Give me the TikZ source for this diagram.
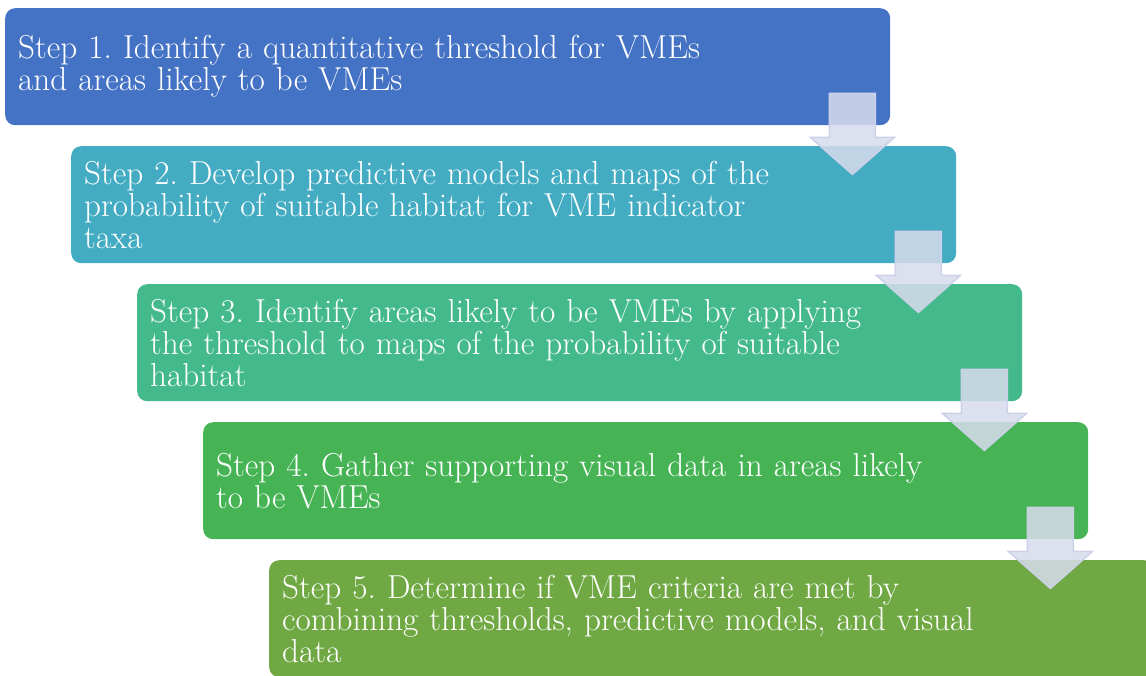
\documentclass[tikz,border=0pt]{standalone}
\usepackage[table]{xcolor}
\definecolor{stepa}{RGB}{68,114,196}
\definecolor{stepb}{RGB}{68,172,194}
\definecolor{stepc}{RGB}{68,186,140}
\definecolor{stepd}{RGB}{70,180,85}
\definecolor{stepe}{RGB}{112,169,68}
\definecolor{arrowfill}{RGB}{215,220,236}
\definecolor{arrowedge}{RGB}{204,208,232}
\usepackage{tikz}
\usetikzlibrary{calc,math}
\frenchspacing

\begin{document}
\begin{tikzpicture}[x=1pt,y=1pt,
        every node/.style={inner xsep=13pt, inner ysep=0pt, minimum height=117pt, text width=859pt, align=left, text=white, rounded corners=10pt, anchor=north west, font=\fontsize{33.2}{32}\selectfont},
        downarrow/.style={draw=arrowedge, line width=1.5pt, fill=arrowfill, fill opacity=0.85}]
        \tikzmath{
            let \dx = 66;
            let \dy = 138;
        }

        \clip (0,0) rectangle (1146,-675);
        \foreach \i/\col/\txt in {
            1/stepa/{Step 1. Identify a quantitative threshold for VMEs\\and areas likely to be VMEs},
            2/stepb/{Step 2. Develop predictive models and maps of the\\probability of suitable habitat for VME indicator\\taxa},
            3/stepc/{Step 3. Identify areas likely to be VMEs by applying\\the threshold to maps of the probability of suitable\\habitat},
            4/stepd/{Step 4. Gather supporting visual data in areas likely\\to be VMEs},
            5/stepe/{Step 5. Determine if VME criteria are met by\\combining thresholds, predictive models, and visual\\data}}
            \node[fill=\col] (s\i) at ({5+\dx*(\i-1)},{-8-\dy*(\i-1)}) {\txt};
        % arrows go on top of both boxes
        \foreach \i in {1,...,4}
            \draw[downarrow] ($(s\i.south east)+(-61,32)$) -- ++(46,0) -- ++(0,-44) -- ++(19,0)
                -- ($(s\i.south east)+(-38,-49)$) -- ($(s\i.south east)+(-80,-12)$) -- ++(19,0) -- cycle;
    \end{tikzpicture}
\end{document}
